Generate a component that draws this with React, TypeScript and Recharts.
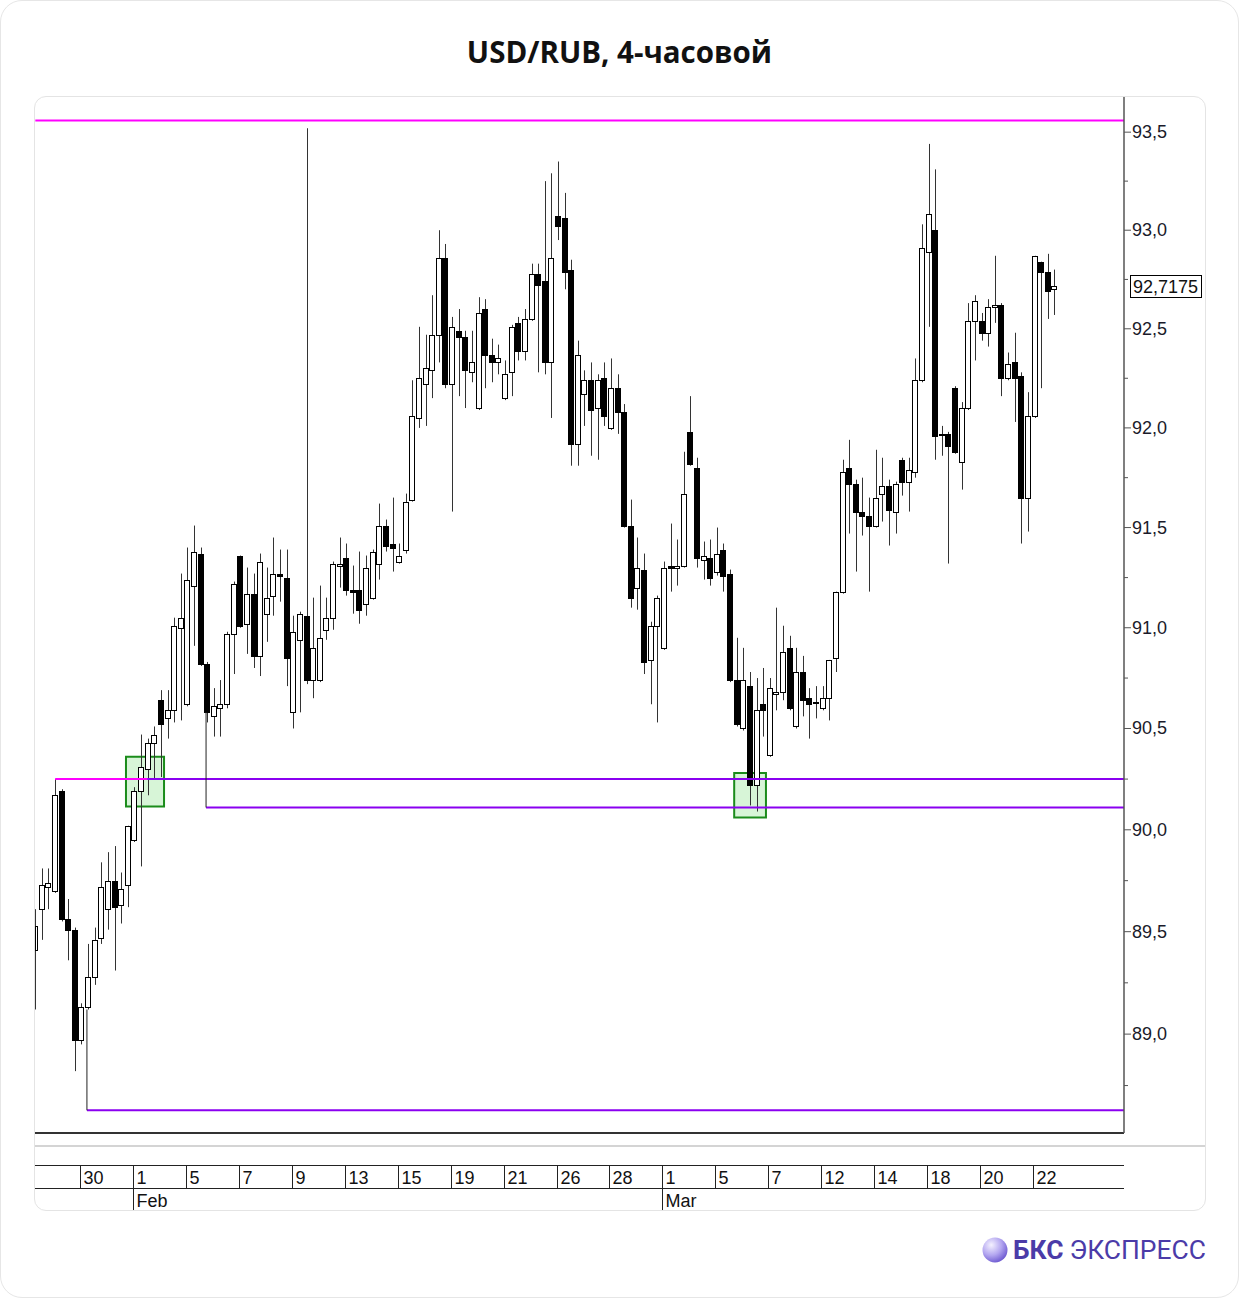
import React from "react";
import { ComposedChart, Bar, XAxis, YAxis, ReferenceLine, ReferenceArea } from "recharts";

// USD/RUB 4h candles, end of Jan .. 22 Mar
const opens = [
  89.41, 89.61, 89.72, 89.70, 90.19, 89.56, 89.51, 88.97, 89.13, 89.28,
  89.47, 89.61, 89.75, 89.63, 89.73, 89.95, 90.19, 90.30, 90.43, 90.64,
  90.55, 90.59, 91.00, 90.62, 91.21, 91.37, 90.82, 90.56, 90.60, 90.62,
  90.97, 91.36, 91.02, 91.17, 90.86, 91.07, 91.16, 91.27, 91.25, 90.58,
  90.94, 91.06, 90.74, 90.74, 90.99, 91.05, 91.31, 91.35, 91.19, 91.19,
  91.12, 91.15, 91.32, 91.51, 91.42, 91.33, 91.39, 91.64, 92.05, 92.22,
  92.29, 92.47, 92.86, 92.22, 92.49, 92.46, 92.28, 92.10, 92.60, 92.37,
  92.33, 92.15, 92.28, 92.53, 92.39, 92.55, 92.78, 92.74, 92.33, 93.07,
  93.06, 92.80, 91.92, 92.17, 92.24, 92.10, 92.25, 92.00, 92.20, 92.08,
  91.51, 91.20, 91.29, 90.84, 91.01, 90.90, 91.31, 91.30, 91.31, 91.98,
  91.80, 91.34, 91.35, 91.28, 91.39, 91.27, 90.74, 90.50, 90.71, 90.22,
  90.62, 90.37, 90.67, 90.68, 90.90, 90.51, 90.78, 90.65, 90.63, 90.60,
  90.65, 90.85, 91.18, 91.80, 91.72, 91.58, 91.56, 91.51, 91.67, 91.71,
  91.58, 91.84, 91.73, 91.78, 92.24, 92.89, 93.00, 91.97, 91.97, 92.20,
  91.83, 92.10, 92.54, 92.54, 92.48, 92.61, 92.62, 92.25, 92.33, 92.26,
  91.65, 92.06, 92.84, 92.79, 92.70
];
const highs = [
  89.61, 89.81, 89.81, 90.25, 90.20, 89.66, 89.52, 89.15, 89.44, 89.52,
  89.84, 89.89, 89.92, 89.79, 90.02, 90.21, 90.47, 90.45, 90.51, 90.69,
  90.69, 91.05, 91.27, 91.40, 91.51, 91.40, 90.83, 90.70, 90.74, 90.98,
  91.23, 91.36, 91.30, 91.27, 91.37, 91.30, 91.45, 91.39, 91.39, 91.06,
  91.08, 93.52, 91.15, 91.21, 91.15, 91.33, 91.45, 91.42, 91.31, 91.38,
  91.36, 91.39, 91.62, 91.54, 91.65, 91.42, 91.67, 92.24, 92.51, 92.47,
  92.67, 93.00, 92.93, 92.56, 92.60, 92.49, 92.49, 92.66, 92.65, 92.45,
  92.42, 92.34, 92.52, 92.56, 92.60, 92.83, 92.83, 93.25, 93.29, 93.35,
  93.19, 92.85, 92.44, 92.29, 92.33, 92.27, 92.33, 92.35, 92.27, 92.12,
  91.64, 91.45, 91.37, 91.03, 91.16, 91.33, 91.52, 91.44, 91.88, 92.16,
  91.85, 91.43, 91.44, 91.50, 91.42, 91.29, 90.95, 90.90, 90.78, 90.75,
  90.80, 90.75, 91.10, 91.01, 90.96, 90.90, 90.86, 90.70, 90.71, 90.71,
  90.84, 91.18, 91.84, 91.94, 91.74, 91.75, 91.65, 91.89, 91.85, 91.74,
  91.73, 91.85, 91.85, 92.35, 93.03, 93.44, 93.31, 92.01, 91.98, 92.21,
  92.13, 92.63, 92.67, 92.58, 92.65, 92.87, 92.63, 92.38, 92.48, 92.28,
  92.18, 92.87, 92.84, 92.88, 92.80
];
const lows = [
  89.12, 89.46, 89.61, 89.69, 89.55, 89.36, 88.82, 88.95, 89.12, 89.24,
  89.44, 89.51, 89.31, 89.54, 89.62, 89.94, 89.82, 90.17, 90.25, 90.26,
  90.45, 90.53, 90.54, 90.61, 90.91, 90.81, 90.53, 90.46, 90.46, 90.60,
  90.77, 91.00, 90.87, 90.80, 90.76, 90.93, 91.06, 91.13, 90.71, 90.50,
  90.58, 90.72, 90.65, 90.73, 90.94, 90.99, 91.20, 91.16, 91.07, 91.02,
  91.06, 91.14, 91.24, 91.38, 91.28, 91.32, 91.37, 91.63, 92.00, 92.01,
  92.15, 92.33, 92.20, 91.58, 92.16, 92.10, 92.23, 92.09, 92.20, 92.23,
  92.27, 92.14, 92.16, 92.34, 92.34, 92.54, 92.28, 92.27, 92.05, 92.95,
  92.70, 91.81, 91.81, 92.01, 91.86, 91.84, 92.01, 91.99, 91.97, 91.50,
  91.10, 91.09, 90.77, 90.62, 90.53, 90.89, 91.18, 91.21, 91.30, 91.81,
  91.30, 91.24, 91.21, 91.26, 91.18, 90.73, 90.51, 90.49, 90.12, 90.09,
  90.46, 90.36, 90.59, 90.64, 90.59, 90.50, 90.56, 90.45, 90.55, 90.59,
  90.54, 90.78, 91.17, 91.47, 91.28, 91.46, 91.18, 91.50, 91.53, 91.41,
  91.47, 91.66, 91.58, 91.75, 92.23, 92.51, 91.84, 91.86, 91.32, 91.87,
  91.69, 92.09, 92.34, 92.44, 92.41, 92.53, 92.16, 92.24, 92.03, 91.42,
  91.48, 92.05, 92.20, 92.55, 92.57
];
const closes = [
  89.53, 89.73, 89.74, 90.17, 89.56, 89.51, 88.97, 89.13, 89.28, 89.46,
  89.72, 89.75, 89.62, 89.71, 90.02, 90.19, 90.31, 90.43, 90.47, 90.52,
  90.59, 91.01, 91.05, 91.24, 91.38, 90.82, 90.58, 90.61, 90.62, 90.97,
  91.22, 91.01, 91.17, 90.86, 91.33, 91.15, 91.27, 91.26, 90.85, 90.98,
  91.07, 90.74, 90.90, 90.95, 91.05, 91.32, 91.32, 91.19, 91.18, 91.09,
  91.30, 91.38, 91.51, 91.41, 91.40, 91.36, 91.63, 92.06, 92.25, 92.30,
  92.47, 92.86, 92.22, 92.51, 92.46, 92.29, 92.33, 92.58, 92.37, 92.33,
  92.35, 92.27, 92.51, 92.39, 92.55, 92.78, 92.72, 92.33, 92.86, 93.02,
  92.79, 91.92, 92.37, 92.24, 92.09, 92.24, 92.06, 92.20, 92.08, 91.51,
  91.15, 91.30, 90.83, 91.01, 91.15, 91.30, 91.30, 91.31, 91.67, 91.82,
  91.35, 91.36, 91.25, 91.37, 91.26, 90.74, 90.52, 90.74, 90.22, 90.59,
  90.59, 90.70, 90.68, 90.88, 90.60, 90.78, 90.64, 90.62, 90.63, 90.65,
  90.84, 91.18, 91.78, 91.72, 91.58, 91.56, 91.51, 91.65, 91.71, 91.59,
  91.72, 91.73, 91.79, 92.24, 92.91, 93.08, 91.96, 91.97, 91.91, 91.88,
  92.10, 92.54, 92.64, 92.48, 92.61, 92.62, 92.25, 92.32, 92.25, 91.65,
  92.06, 92.87, 92.79, 92.69, 92.7175
];

// first candle of each labelled day
const dayStarts = [7, 15, 23, 31, 39, 47, 55, 63, 71, 79, 87, 95, 103, 111, 119, 127, 135, 143, 151];
const dayLabels = ["30", "1", "5", "7", "9", "13", "15", "19", "21", "26", "28", "1", "5", "7", "12", "14", "18", "20", "22"];
const monthStarts = [15, 95];
const monthLabels = ["Feb", "Mar"];

const priceTicks = [
  88.75, 89, 89.25, 89.5, 89.75, 90, 90.25, 90.5, 90.75, 91, 91.25,
  91.5, 91.75, 92, 92.25, 92.5, 92.75, 93, 93.25, 93.5
];
const lastPrice = 92.7175;

// drawn levels (x in candle units)
const levelLines = [
  { y: 93.56, from: 0, to: 164.5, color: "#ff00ff" },
  { y: 90.25, from: 3, to: 16.9, color: "#ff00ff" },
  { y: 90.25, from: 16.9, to: 164.5, color: "#8a00f0" },
  { y: 90.11, from: 25.8, to: 164.5, color: "#8a00f0" },
  { y: 88.63, from: 7.8, to: 164.5, color: "#8a00f0" }
];
const levelDrops = [
  { x: 7.8, y1: 89.12, y2: 88.63 },
  { x: 25.8, y1: 90.58, y2: 90.11 }
];
const boxes = [
  { x1: 13.7, x2: 19.45, y1: 90.115, y2: 90.36 },
  { x1: 105.6, x2: 110.4, y1: 90.06, y2: 90.28 }
];

const PAD = 10;
const candles = opens.map((o, i) => ({ i, o, h: highs[i], l: lows[i], c: closes[i] }));
const chartData: any[] = [
  ...candles,
  ...Array.from({ length: PAD }, (_, k) => ({ i: candles.length + k }))
];

const fmt = (v: number, d = 1) => v.toFixed(d).replace(".", ",");
const FONT = "'Liberation Sans', Arial, sans-serif";

const Candle = (props: any) => {
  const { x, y, width, height, payload } = props;
  if (!payload || payload.h == null || !isFinite(y) || !isFinite(height)) return <g />;
  const top = Math.min(y, y + height);
  const bot = Math.max(y, y + height);
  const cx = Math.round(x + width / 2) + 0.5;
  const lh = Math.log(payload.h);
  const ll = Math.log(payload.l);
  const py = (v: number) => top + ((bot - top) * (lh - Math.log(v))) / (lh - ll);
  const yo = py(payload.o);
  const yc = py(payload.c);
  const bt = Math.round(Math.min(yo, yc)) + 0.5;
  const bb = Math.max(Math.round(Math.max(yo, yc)) + 0.5, bt + 1);
  const up = payload.c >= payload.o;
  // first candle is cut by the left edge of the pane
  const left = Math.max(cx - 3, 35.5);
  return (
    <g>
      <line x1={cx} x2={cx} y1={top} y2={bot} stroke="#333" strokeWidth={1} />
      {cx + 2 > left && (
        <rect x={left} y={bt} width={cx + 2 - left} height={bb - bt} fill={up ? "#fff" : "#000"} stroke="#000" strokeWidth={1} />
      )}
    </g>
  );
};

const PriceTick = (props: any) => {
  const { x, y, payload } = props;
  const v = payload.value;
  const major = Math.abs(v * 2 - Math.round(v * 2)) < 1e-6;
  return (
    <g>
      <line x1={x} x2={x + (major ? 7 : 4)} y1={y} y2={y} stroke="#555" strokeWidth={1} />
      {major && (
        <text x={x + 8} y={y + 6} fontSize={18} fontFamily={FONT} fill="#1a1a2a">
          {fmt(v)}
        </text>
      )}
    </g>
  );
};

const DateTick = (props: any) => {
  const { x, y, payload } = props;
  const k = dayStarts.indexOf(payload.value);
  if (k < 0) return <g />;
  const sx = Math.round(x - 1.6) + 0.5;
  const m = monthStarts.indexOf(payload.value);
  return (
    <g>
      <line x1={sx} x2={sx} y1={y + 32} y2={m >= 0 ? y + 77 : y + 55} stroke="#222" strokeWidth={1} />
      <text x={sx + 3} y={y + 51} fontSize={18} fontFamily={FONT} fill="#111">
        {dayLabels[k]}
      </text>
      {m >= 0 && (
        <text x={sx + 3} y={y + 74} fontSize={18} fontFamily={FONT} fill="#111">
          {monthLabels[m]}
        </text>
      )}
    </g>
  );
};

const PriceTag = (p: any) => {
  const vb = p.viewBox || {};
  const yy = vb.y;
  const xx = vb.x + vb.width + 6;
  return (
    <g>
      <rect x={xx + 0.5} y={Math.round(yy - 11) + 0.5} width={71} height={22} fill="#fff" stroke="#000" strokeWidth={1} />
      <text x={xx + 3} y={yy + 7} fontSize={18} fontFamily={FONT} fill="#111">
        {fmt(lastPrice, 4)}
      </text>
    </g>
  );
};

const App = () => {
  return (
    <div style={{ position: "absolute", left: 0, top: 0, width: 1239, height: 1298, background: "#fff" }}>
      <div style={{ position: "absolute", left: 0, top: 0, width: 1239, height: 1298, boxSizing: "border-box", border: "1px solid #e6e6e6", borderRadius: 22 }} />
      <div style={{ position: "absolute", left: 34, top: 96, width: 1172, height: 1115, boxSizing: "border-box", border: "1px solid #e4e4e4", borderRadius: 12 }} />
      <div style={{ position: "absolute", left: 35, top: 1145, width: 1170, height: 2, background: "#d4d4d4" }} />
      <div style={{ position: "absolute", left: 35, top: 1132, width: 1089, height: 2, background: "#333" }} />
      <div style={{ position: "absolute", left: 35, top: 1165, width: 1089, height: 1, background: "#222" }} />
      <div style={{ position: "absolute", left: 35, top: 1188, width: 1089, height: 1, background: "#222" }} />
      <div
        style={{
          position: "absolute", left: 0, top: 33, width: 1239, textAlign: "center", lineHeight: "38px",
          fontFamily: "'Open Sans', sans-serif", fontWeight: 700, fontSize: 29.5, color: "#111"
        }}
      >
        USD/RUB, 4-часовой
      </div>
      <div style={{ position: "absolute", left: 0, top: 0 }}>
        <ComposedChart
          width={1239}
          height={1298}
          data={chartData}
          margin={{ top: 97, right: 35, bottom: 88, left: 32 }}
        >
          <XAxis
            xAxisId="n"
            dataKey="i"
            type="number"
            domain={[-0.5, 164.5]}
            allowDataOverflow
            ticks={dayStarts}
            interval={0}
            height={77}
            tickSize={0}
            tickMargin={0}
            tickLine={false}
            axisLine={false}
            tick={<DateTick />}
          />
          <XAxis xAxisId="c" dataKey="i" type="category" hide height={0} />
          <YAxis
            orientation="right"
            type="number"
            scale="log"
            domain={[88.52, 93.68]}
            allowDataOverflow
            ticks={priceTicks}
            interval={0}
            width={80}
            tickSize={0}
            tickMargin={0}
            tickLine={false}
            axisLine={{ stroke: "#555", strokeWidth: 1.5 }}
            tick={<PriceTick />}
          />
          {boxes.map((b, k) => (
            <ReferenceArea
              key={`box-${k}`}
              xAxisId="n"
              x1={b.x1}
              x2={b.x2}
              y1={b.y1}
              y2={b.y2}
              fill="#cdf2cd"
              fillOpacity={0.8}
              stroke="#1b8c1b"
              strokeWidth={2}
              ifOverflow="visible"
            />
          ))}
          <Bar
            xAxisId="c"
            dataKey={(d: any) => (d.h == null ? null : [d.l, d.h])}
            shape={<Candle />}
            isAnimationActive={false}
          />
          {levelLines.map((l, k) => (
            <ReferenceLine
              key={`lvl-${k}`}
              xAxisId="n"
              segment={[{ x: l.from, y: l.y }, { x: l.to, y: l.y }]}
              stroke={l.color}
              strokeWidth={2}
              ifOverflow="visible"
            />
          ))}
          {levelDrops.map((d, k) => (
            <ReferenceLine
              key={`drop-${k}`}
              xAxisId="n"
              segment={[{ x: d.x, y: d.y1 }, { x: d.x, y: d.y2 }]}
              stroke="#222"
              strokeWidth={1}
              ifOverflow="visible"
            />
          ))}
          <ReferenceLine xAxisId="n" y={lastPrice} stroke="none" ifOverflow="visible" label={PriceTag} />
        </ComposedChart>
      </div>
      <svg style={{ position: "absolute", left: 970, top: 1230 }} width={260} height={40}>
        <defs>
          <radialGradient id="bksBall" cx="35%" cy="30%" r="75%">
            <stop offset="0%" stopColor="#f4f1ff" />
            <stop offset="55%" stopColor="#b3a6f0" />
            <stop offset="100%" stopColor="#6b57d0" />
          </radialGradient>
        </defs>
        <circle cx={25} cy={20} r={12.5} fill="url(#bksBall)" />
        <text x={43} y={29} fontSize={26.4} fontFamily="Roboto, 'Noto Sans', sans-serif" fill="#4b3ba8">
          <tspan fontWeight={700}>БКС</tspan>
          <tspan dx={6}>ЭКСПРЕСС</tspan>
        </text>
      </svg>
    </div>
  );
};

export default App;
